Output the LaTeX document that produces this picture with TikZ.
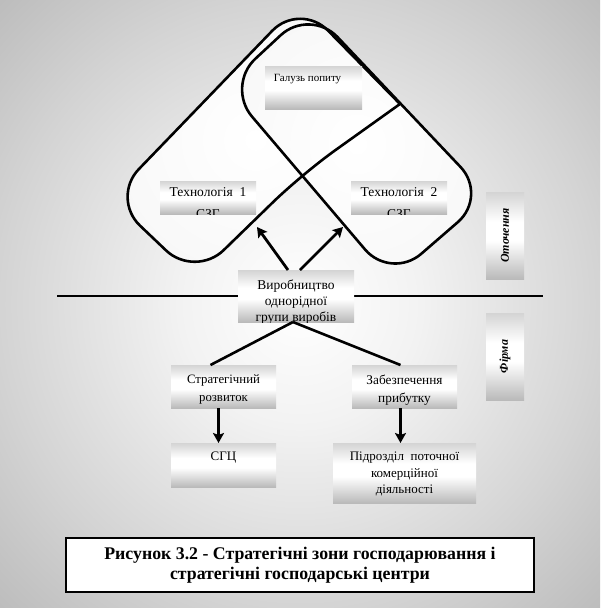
\documentclass[tikz,border=0pt]{standalone}
\usepackage{fontspec}
\setmainfont{Liberation Serif}
\usetikzlibrary{arrows.meta}
\pgfdeclareverticalshading{metal}{100bp}{color(0bp)=(white!42!black); color(47bp)=(white); color(58bp)=(white); color(100bp)=(white!58!black)}
\pgfdeclareradialshading{glow}{\pgfpoint{0bp}{0bp}}{color(0bp)=(white); color(10bp)=(white!95!black); color(25bp)=(white!83!black); color(40bp)=(white!70!black); color(50bp)=(white!64!black); color(71bp)=(white!60!black)}
\pgfdeclareradialshading{pale}{\pgfpoint{0bp}{0bp}}{color(0bp)=(white); color(28bp)=(white!97!black); color(50bp)=(white!80!black); color(71bp)=(white!72!black)}
\tikzset{
  zone/.style={line width=2.6pt, rounded corners=40pt},
  box/.style={shading=metal, inner sep=0pt, outer sep=0pt},
  boxtext/.style n args={4}{path picture={\node[anchor=north, inner sep=0pt, minimum width=0pt, minimum height=0pt, align=center, font=#3] at ([xshift=#1,yshift=-#2]path picture bounding box.north) {#4};}},
  sidebox/.style={box, rotate=90, minimum width=87pt, minimum height=38pt, font=\bfseries\itshape\fontsize{12}{14}\selectfont},
  arrow/.style={line width=2.8pt, -{Stealth[length=10pt, width=11pt, inset=2pt]}},
  link/.style={line width=2.6pt},
}
\begin{document}
\begin{tikzpicture}[x=1pt, y=-1pt]
\useasboundingbox (0,0) rectangle (600,608);
\path[shading=glow] (0,0) rectangle (600,608);
\coordinate (lA) at (400,104);
\coordinate (lB) at (300,2);
\coordinate (lC) at (111,198);
\coordinate (lD) at (195,278);
\coordinate (lE) at (302,174);
\coordinate (rA) at (310,8);
\coordinate (rB) at (488,196);
\coordinate (rC) at (391,280);
\coordinate (rD) at (226,86);
\path[zone, shading=pale] (lA) -- (lB) -- (lC) -- (lD) -- (lE) -- (lA);
\draw[zone, shading=pale] (rA) -- (rB) -- (rC) -- (rD) -- cycle;
\draw[zone] (lA) -- (lB) -- (lC) -- (lD) -- (lE) -- (lA);
\coordinate (sepL) at (57,296);
\coordinate (sepR) at (543,296);
\draw[link] (sepL) -- (sepR);
\node[box, minimum width=97pt, minimum height=43pt, boxtext={-6pt}{8pt}{\fontsize{11}{13}\selectfont}{Галузь попиту}] (demand) at (313.5,87.5){};
\node[box, minimum width=96pt, minimum height=33pt, boxtext={0pt}{7pt}{\fontsize{13.5}{21.5}\selectfont}{Технологія\enspace 1\\СЗГ}] (tech1) at (208,197.5){};
\node[box, minimum width=96pt, minimum height=33pt, boxtext={0pt}{7pt}{\fontsize{13.5}{21.5}\selectfont}{Технологія\enspace 2\\СЗГ}] (tech2) at (399,197.5){};
\node[box, minimum width=116pt, minimum height=52pt, boxtext={0pt}{10pt}{\fontsize{13.5}{15.8}\selectfont}{Виробництво\\однорідної\\групи виробів}] (prod) at (296,296){};
\node[box, minimum width=105pt, minimum height=43pt, boxtext={0pt}{10pt}{\fontsize{12.8}{18}\selectfont}{Стратегічний\\розвиток}] (strat) at (223.5,386.5){};
\node[box, minimum width=105pt, minimum height=43pt, boxtext={0pt}{10pt}{\fontsize{13.3}{18}\selectfont}{Забезпечення\\прибутку}] (profit) at (404.5,386.5){};
\node[box, minimum width=105pt, minimum height=44pt, boxtext={0pt}{9pt}{\fontsize{13}{16}\selectfont}{СГЦ}] (sgc) at (223.5,465){};
\node[box, minimum width=143pt, minimum height=60pt, boxtext={0pt}{9pt}{\fontsize{13}{16.5}\selectfont}{Підрозділ\enspace поточної\\комерційної\\діяльності}] (unit) at (404.5,473){};
\node[sidebox] (env) at (505,235.5){Оточення};
\node[sidebox] (firm) at (505,356.5){Фірма};
\coordinate (tipL) at (257,227);
\coordinate (tipR) at (343,227);
\draw[arrow] ([xshift=-8pt]prod.north) -- (tipL);
\draw[arrow] ([xshift=4pt]prod.north) -- (tipR);
\draw[link] ([xshift=-3pt]prod.south) -- ([xshift=-13pt]strat.north);
\draw[link] ([xshift=-3pt]prod.south) -- ([xshift=-4pt]profit.north);
\draw[arrow] ([xshift=-5pt]strat.south) -- ([xshift=-5pt]sgc.north);
\draw[arrow] ([xshift=-4pt]profit.south) -- ([xshift=-4pt]unit.north);
\node[draw, fill=white, line width=1.3pt, minimum width=468pt, minimum height=54pt, align=center, font=\bfseries\fontsize{17.8}{19.5}\selectfont] (caption) at (300,565){Рисунок 3.2 - Стратегічні зони господарювання і\\стратегічні господарські центри};
\end{tikzpicture}
\end{document}
